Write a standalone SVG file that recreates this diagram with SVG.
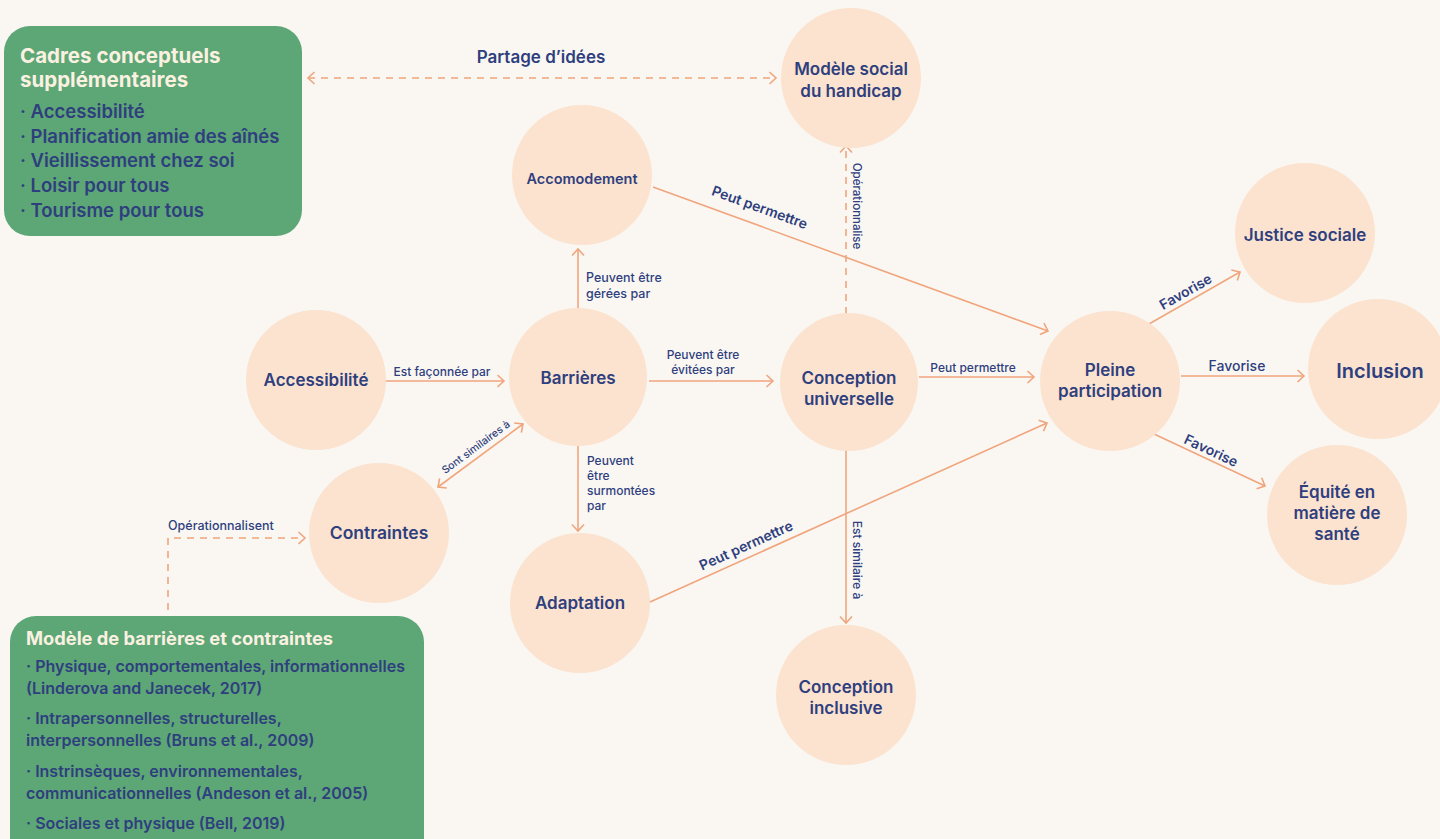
<svg xmlns="http://www.w3.org/2000/svg" width="1440" height="839" viewBox="0 0 1440 839">
<defs>
<style>
.bg{fill:#faf7f3}
.node{fill:#fbe3cf}
.box{fill:#5da676}
.t{font-family:Inter,"Liberation Sans",sans-serif;fill:#2f3f7e;font-weight:600}
.c{text-anchor:middle}
.lbl{font-family:Inter,"Liberation Sans",sans-serif;fill:#2f3f7e;font-weight:500}
.hd{font-family:Inter,"Liberation Sans",sans-serif;fill:#fbf1e1;font-weight:700}
.ln{stroke:#f0a57c;stroke-width:1.6;fill:none}
.dash{stroke-dasharray:7 6}
</style>
<marker id="ah" markerUnits="userSpaceOnUse" markerWidth="12" markerHeight="16" viewBox="0 0 12 16" refX="8" refY="8" orient="auto-start-reverse">
<path d="M1.5,2 L8,8 L1.5,14" fill="none" stroke="#f0a57c" stroke-width="1.6"/>
</marker>
</defs>
<rect class="bg" x="0" y="0" width="1440" height="839"/>

<g id="connectors">
<line class="ln dash" x1="308" y1="78" x2="776" y2="78" marker-start="url(#ah)" marker-end="url(#ah)"/>
<line class="ln" x1="653" y1="187" x2="1048" y2="331" marker-end="url(#ah)"/>
<line class="ln" x1="578" y1="310" x2="578" y2="249" marker-end="url(#ah)"/>
<line class="ln dash" x1="846" y1="314" x2="846" y2="146" marker-end="url(#ah)"/>
<line class="ln" x1="386" y1="381" x2="504" y2="381" marker-end="url(#ah)"/>
<line class="ln" x1="649" y1="381" x2="773" y2="381" marker-end="url(#ah)"/>
<line class="ln" x1="438" y1="487" x2="523" y2="424" marker-start="url(#ah)" marker-end="url(#ah)"/>
<line class="ln" x1="578" y1="445" x2="578" y2="531" marker-end="url(#ah)"/>
<line class="ln" x1="650" y1="602" x2="1047" y2="423" marker-end="url(#ah)"/>
<line class="ln" x1="919" y1="377" x2="1034" y2="377" marker-end="url(#ah)"/>
<line class="ln" x1="846" y1="450" x2="846" y2="623" marker-end="url(#ah)"/>
<polyline class="ln dash" points="168,610 168,538 305,538" marker-end="url(#ah)"/>
<line class="ln" x1="1149" y1="324" x2="1240" y2="272" marker-end="url(#ah)"/>
<line class="ln" x1="1181" y1="376" x2="1304" y2="376" marker-end="url(#ah)"/>
<line class="ln" x1="1154" y1="434" x2="1265" y2="486" marker-end="url(#ah)"/>

<text class="t c" x="541" y="63" font-size="17">Partage d’idées</text>
<text class="t c" font-size="14" transform="translate(758,212) rotate(20)">Peut permettre</text>
<text class="lbl" x="586" y="282" font-size="12.5">Peuvent être</text>
<text class="lbl" x="586" y="298" font-size="12.5">gérées par</text>
<text class="lbl c" font-size="11.5" transform="translate(853,206) rotate(90)">Opérationnalise</text>
<text class="lbl c" x="442" y="376" font-size="12">Est façonnée par</text>
<text class="lbl c" x="703" y="359" font-size="12">Peuvent être</text>
<text class="lbl c" x="703" y="374" font-size="12">évitées par</text>
<text class="lbl c" font-size="10.5" transform="translate(478,450) rotate(-36.5)">Sont similaires à</text>
<text class="lbl" x="587" y="465" font-size="12">Peuvent</text>
<text class="lbl" x="587" y="480" font-size="12">être</text>
<text class="lbl" x="587" y="495" font-size="12">surmontées</text>
<text class="lbl" x="587" y="510" font-size="12">par</text>
<text class="t c" font-size="14" transform="translate(748,550) rotate(-24.3)">Peut permettre</text>
<text class="lbl c" x="973" y="372" font-size="12">Peut permettre</text>
<text class="lbl c" font-size="12" transform="translate(853,560) rotate(90)">Est similaire à</text>
<text class="lbl" x="168" y="530" font-size="12.5">Opérationnalisent</text>
<text class="t c" font-size="14" transform="translate(1188,296) rotate(-29.7)">Favorise</text>
<text class="lbl c" x="1237" y="371" font-size="14">Favorise</text>
<text class="t c" font-size="14" transform="translate(1209,455) rotate(25)">Favorise</text>
</g>

<g id="box-cadres">
<rect class="box" x="4" y="26" width="298" height="210" rx="26"/>
<text class="hd" x="20" y="63" font-size="20.5">Cadres conceptuels</text>
<text class="hd" x="20" y="87" font-size="20.5">supplémentaires</text>
<text class="t" x="20" y="118" font-size="18.5">· Accessibilité</text>
<text class="t" x="20" y="143" font-size="18.5">· Planification amie des aînés</text>
<text class="t" x="20" y="167" font-size="18.5">· Vieillissement chez soi</text>
<text class="t" x="20" y="192" font-size="18.5">· Loisir pour tous</text>
<text class="t" x="20" y="217" font-size="18.5">· Tourisme pour tous</text>
</g>

<g id="box-modele">
<rect class="box" x="10" y="616" width="414" height="250" rx="26"/>
<text class="hd" x="26" y="645" font-size="18.3">Modèle de barrières et contraintes</text>
<text class="t" x="26" y="672" font-size="16">· Physique, comportementales, informationnelles</text>
<text class="t" x="26" y="694" font-size="16">(Linderova and Janecek, 2017)</text>
<text class="t" x="26" y="724" font-size="16">· Intrapersonnelles, structurelles,</text>
<text class="t" x="26" y="746" font-size="16">interpersonnelles (Bruns et al., 2009)</text>
<text class="t" x="26" y="777" font-size="16">· Instrinsèques, environnementales,</text>
<text class="t" x="26" y="799" font-size="16">communicationnelles (Andeson et al., 2005)</text>
<text class="t" x="26" y="829" font-size="16">· Sociales et physique (Bell, 2019)</text>
</g>

<g id="n-modele-social">
<circle class="node" cx="851" cy="78" r="70"/>
<text class="t c" x="851" y="75" font-size="17">Modèle social</text>
<text class="t c" x="851" y="97" font-size="17">du handicap</text>
</g>
<g id="n-accomodement">
<circle class="node" cx="582" cy="175" r="70"/>
<text class="t c" x="582" y="184" font-size="14.5">Accomodement</text>
</g>
<g id="n-barrieres">
<circle class="node" cx="578" cy="377" r="69"/>
<text class="t c" x="578" y="384" font-size="17">Barrières</text>
</g>
<g id="n-accessibilite">
<circle class="node" cx="316" cy="380" r="70"/>
<text class="t c" x="316" y="386" font-size="17">Accessibilité</text>
</g>
<g id="n-contraintes">
<circle class="node" cx="379" cy="533" r="70"/>
<text class="t c" x="379" y="539" font-size="17.5">Contraintes</text>
</g>
<g id="n-adaptation">
<circle class="node" cx="580" cy="603" r="70"/>
<text class="t c" x="580" y="609" font-size="17">Adaptation</text>
</g>
<g id="n-conception-universelle">
<circle class="node" cx="849" cy="382" r="69"/>
<text class="t c" x="849" y="384" font-size="17">Conception</text>
<text class="t c" x="849" y="405" font-size="17">universelle</text>
</g>
<g id="n-conception-inclusive">
<circle class="node" cx="846" cy="695" r="70"/>
<text class="t c" x="846" y="693" font-size="17">Conception</text>
<text class="t c" x="846" y="714" font-size="17">inclusive</text>
</g>
<g id="n-pleine-participation">
<circle class="node" cx="1110" cy="381" r="70"/>
<text class="t c" x="1110" y="376" font-size="17">Pleine</text>
<text class="t c" x="1110" y="397" font-size="17">participation</text>
</g>
<g id="n-justice-sociale">
<circle class="node" cx="1305" cy="233" r="70"/>
<text class="t c" x="1305" y="241" font-size="17">Justice sociale</text>
</g>
<g id="n-inclusion">
<circle class="node" cx="1378" cy="369" r="70"/>
<text class="t c" x="1380" y="378" font-size="20">Inclusion</text>
</g>
<g id="n-equite">
<circle class="node" cx="1337" cy="515" r="70"/>
<text class="t c" x="1337" y="498" font-size="17">Équité en</text>
<text class="t c" x="1337" y="519" font-size="17">matière de</text>
<text class="t c" x="1337" y="540" font-size="17">santé</text>
</g>
</svg>
